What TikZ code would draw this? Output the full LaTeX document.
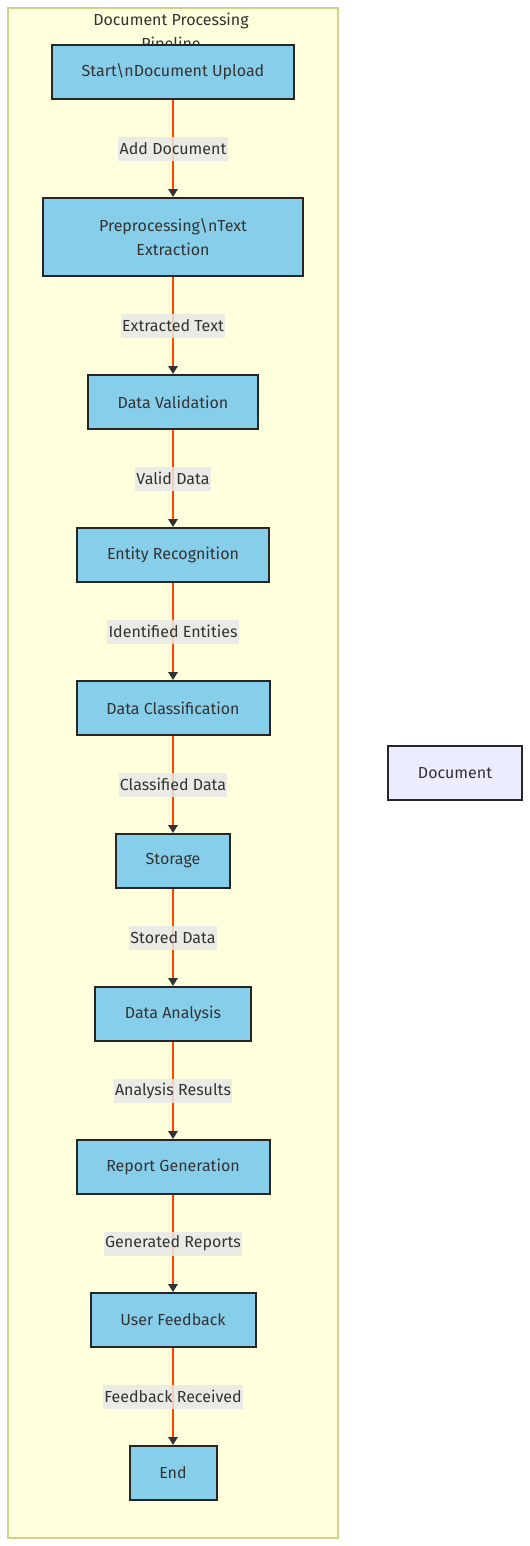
\documentclass[tikz,border=0pt]{standalone}
\usepackage{fontspec}
\setmainfont{Fira Sans}
\usetikzlibrary{arrows.meta}
\definecolor{clusterfill}{HTML}{FFFFDE}
\definecolor{clusterline}{HTML}{D2D28C}
\definecolor{stepfill}{HTML}{87CEEB}
\definecolor{docfill}{HTML}{ECECFF}
\definecolor{flowline}{HTML}{FF4500}
\definecolor{tiptone}{HTML}{333333}
\definecolor{labelfill}{HTML}{E8E8E8}
\begin{document}
\begin{tikzpicture}[x=0.75pt, y=-0.75pt,
    font=\fontsize{12}{18.5}\selectfont, text=tiptone,
    stepbox/.style={draw=black!85, line width=1.5pt, fill=stepfill, minimum height=40.5pt, inner sep=2pt, align=center},
    flow/.style={draw=flowline, line width=1.5pt, -{Triangle[color=tiptone, length=6pt, width=7pt]}},
    flowlabel/.style={midway, fill=labelfill, fill opacity=0.85, text opacity=1, inner xsep=1pt, inner ysep=0pt, minimum height=18pt}]
    \useasboundingbox (0,0) rectangle (530,1546);
    \draw[fill=clusterfill, draw=clusterline, line width=1pt] (8,8) rectangle (338,1538);
    \node[align=center] (title) at (171,33) {Document Processing\\Pipeline};
    \node[stepbox, minimum width=181.5pt] (start) at (173,72) {Start\textbackslash nDocument Upload};
    \node[stepbox, minimum width=195pt, minimum height=58.5pt] (prep) at (173,237) {Preprocessing\textbackslash nText\\Extraction};
    \node[stepbox, minimum width=127.5pt] (valid) at (173,402) {Data Validation};
    \node[stepbox, minimum width=144pt] (entity) at (173,555) {Entity Recognition};
    \node[stepbox, minimum width=144.75pt] (classify) at (173,708) {Data Classification};
    \node[stepbox, minimum width=85.5pt] (storage) at (173,861) {Storage};
    \node[stepbox, minimum width=117pt] (analysis) at (173,1014) {Data Analysis};
    \node[stepbox, minimum width=144.75pt] (report) at (173,1167) {Report Generation};
    \node[stepbox, minimum width=123.75pt] (feedback) at (173,1320) {User Feedback};
    \node[stepbox, minimum width=65.25pt] (end) at (173,1473) {End};
    \node[stepbox, fill=docfill, minimum width=100.5pt] (doc) at (455,773) {Document};
    \draw[flow] (start) -- (prep) node[flowlabel] {Add Document};
    \draw[flow] (prep) -- (valid) node[flowlabel] {Extracted Text};
    \draw[flow] (valid) -- (entity) node[flowlabel] {Valid Data};
    \draw[flow] (entity) -- (classify) node[flowlabel] {Identified Entities};
    \draw[flow] (classify) -- (storage) node[flowlabel] {Classified Data};
    \draw[flow] (storage) -- (analysis) node[flowlabel] {Stored Data};
    \draw[flow] (analysis) -- (report) node[flowlabel] {Analysis Results};
    \draw[flow] (report) -- (feedback) node[flowlabel] {Generated Reports};
    \draw[flow] (feedback) -- (end) node[flowlabel] {Feedback Received};
  \end{tikzpicture}
\end{document}
